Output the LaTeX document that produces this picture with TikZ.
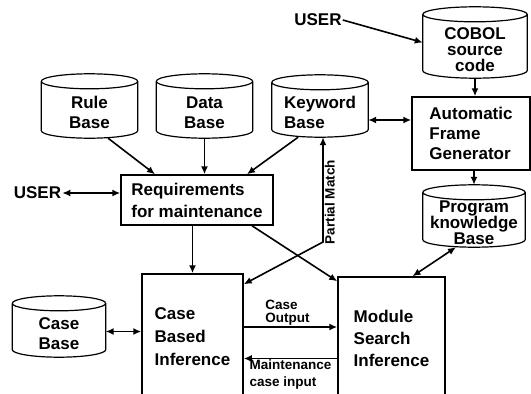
\documentclass[tikz,border=0pt]{standalone}
\usepackage{fontspec}
\setmainfont{Liberation Sans}
\usetikzlibrary{arrows.meta,positioning,calc}

% cylinder outline round a named store node
\newcommand\storeoutline[1]{%
  \draw[line width=1.2pt] let \p1=(#1.north west), \p2=(#1.south east), \n1={(\x2-\x1)/2} in
    (\x1,\y1-7.5pt) arc[start angle=180,end angle=-180,x radius=\n1,y radius=7.5pt]
    (\x1,\y1-7.5pt) -- (\x1,\y2+7.5pt) arc[start angle=180,end angle=360,x radius=\n1,y radius=7.5pt] -- (\x2,\y1-7.5pt);}
\newcommand\toppad{\rule{0pt}{26pt}}

\begin{document}
\begin{tikzpicture}[x=1pt,y=-1pt,
  store/.style={align=center,inner sep=0pt,font=\bfseries\fontsize{17}{20}\selectfont},
  unit/.style={draw,line width=1.5pt,align=left,inner sep=0pt,font=\bfseries\fontsize{17}{22}\selectfont},
  actor/.style={font=\bfseries\fontsize{17}{17}\selectfont,inner sep=1pt},
  note/.style={font=\bfseries\fontsize{13.5}{14}\selectfont,align=left,inner sep=1pt},
  arr/.style={-{Latex[length=8pt,width=7pt]},line width=1.6pt},
  dbl/.style={{Latex[length=8pt,width=7pt]}-{Latex[length=8pt,width=7pt]},line width=1.6pt}
]
\useasboundingbox (0,0) rectangle (531,394);
\clip (0,0) rectangle (531,394);

\node[store,minimum width=96pt,minimum height=64pt] (rule) at (89.5,106) {\toppad Rule\\Base};
\node[store,minimum width=96pt,minimum height=64pt] (data) at (204.5,106) {\toppad Data\\Base};
\node[store,align=left,minimum width=96pt,minimum height=62pt] (keyword) at (320,106) {\toppad Keyword\\Base};
\node[store,minimum width=104pt,minimum height=71pt,font=\bfseries\fontsize{17}{16}\selectfont] (cobol) at (475,42.5) {\toppad COBOL\\source\\code};
\node[store,minimum width=102pt,minimum height=62pt,font=\bfseries\fontsize{17}{16}\selectfont] (pkb) at (474,216) {\toppad Program\\knowledge\\Base};
\node[store,minimum width=93pt,minimum height=61pt] (casebase) at (59,326.5) {\toppad Case\\Base};
\foreach \s in {rule,data,keyword,cobol,pkb,casebase} {\storeoutline{\s}}

\node[unit,minimum width=118pt,minimum height=73pt,font=\bfseries\fontsize{17}{20}\selectfont] (afg) at (471,133.5) {Automatic\\Frame\\Generator};
\node[unit,minimum width=152pt,minimum height=50pt] (req) at (197,200) {Requirements\\for maintenance};
\node[unit,minimum width=101pt,minimum height=126pt,font=\bfseries\fontsize{17}{23}\selectfont] (cbi) at (192.5,337) {Case\\Based\\Inference};
\node[unit,minimum width=107pt,minimum height=123pt] (msi) at (391.5,338.5) {Module\\Search\\Inference};

\node[actor] (usertop) at (318,20) {USER};
\node[actor] (userleft) at (37.5,193) {USER};
\coordinate (bend) at (323,242);

\draw[arr] (usertop.east) -- (cobol.west);
\draw[arr] (cobol.south) -- (cobol.south |- afg.north);
\draw[dbl] ([yshift=-14pt]keyword.east) -- ([yshift=-14pt]keyword.east -| afg.west);
\draw[arr] (pkb.north |- afg.south) -- (pkb.north);
\draw[dbl] (pkb.240) -- ([xshift=21pt]msi.north);
\draw[arr] (rule.-60) -- ([xshift=-42pt]req.north);
\draw[arr] (data.south) -- (data.south |- req.north);
\draw[arr] (keyword.235) -- ([xshift=50pt]req.north);
\draw[dbl] (userleft.east) -- (userleft.east -| req.west);
\draw[arr] (cbi.north |- req.south) -- (cbi.north);
\draw[arr] ([xshift=55pt]req.south) -- ([yshift=-5pt]msi.north west);
\draw[dbl] ([yshift=-11pt]cbi.north east) -- (bend)
  -- node[note,rotate=90,anchor=north,pos=0.38] {Partial Match} (bend |- keyword.south);
\draw[dbl] ([yshift=-5pt]casebase.east) -- ([yshift=-5pt]casebase.east -| cbi.west);
\draw[arr] ([yshift=10pt]cbi.east) -- node[note,above,xshift=-3pt,font=\bfseries\fontsize{13.5}{13}\selectfont] {Case\\Output} ([yshift=10pt]cbi.east -| msi.west);
\draw[arr] ([yshift=-20pt]msi.west) -- node[note,below,inner sep=0pt,font=\bfseries\fontsize{13.5}{17}\selectfont] {Maintenance\\case input} ([yshift=-20pt]msi.west -| cbi.east);
\end{tikzpicture}
\end{document}
